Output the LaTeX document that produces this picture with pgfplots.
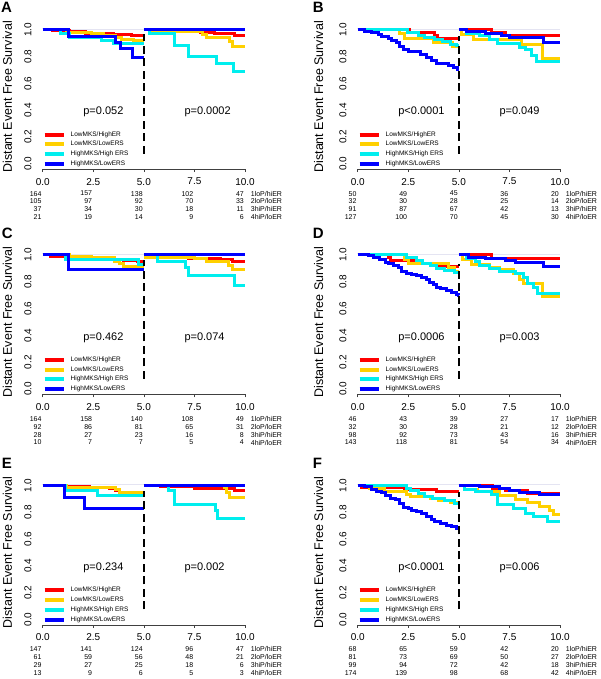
\documentclass[border=0pt]{standalone}
\usepackage{fontspec}
\setmainfont{Liberation Sans}
\usepackage{pgfplots}
\pgfplotsset{compat=1.18}

\definecolor{kmred}{RGB}{255,0,0}
\definecolor{kmyel}{RGB}{255,208,0}
\definecolor{kmcya}{RGB}{0,238,238}
\definecolor{kmblu}{RGB}{0,0,255}
\definecolor{kmtop}{RGB}{228,228,242}

\tikzset{
  rnum/.style={anchor=east,inner sep=0pt,font=\fontsize{7}{8}\selectfont},
  rlab/.style={anchor=west,inner sep=0pt,font=\fontsize{7}{8}\selectfont},
  pval/.style={anchor=west,inner sep=0pt,font=\fontsize{11}{12}\selectfont},
  plab/.style={anchor=north west,inner sep=0pt,font=\fontsize{15}{15}\selectfont\bfseries},
}

\pgfplotsset{km/.style={
  scale only axis, width=218.5pt, height=144.72pt,
  xmin=-0.4, xmax=10.4, ymin=-0.04, ymax=1.04,
  anchor=south west, clip=false,
  axis x line*=bottom, axis y line*=left,
  axis line style={draw=none},
  xtick={0,2.5,5,7.5,10}, xticklabels={0.0,2.5,5.0,7.5,10.0},
  ytick={0,0.2,0.4,0.6,0.8,1.0}, yticklabels={0.0,0.2,0.4,0.6,0.8,1.0},
  ytick style={draw=none},
  xtick style={black!75,line width=0.5pt},
  tick align=outside, major tick length=3pt,
  xticklabel style={font=\fontsize{10}{12}\selectfont,anchor=north,inner sep=0pt,yshift=-5.7pt},
  yticklabel style={font=\fontsize{10}{12}\selectfont,rotate=90,anchor=south,inner sep=0pt},
  ylabel={Distant Event Free Survival},
  ylabel style={font=\fontsize{12.5}{14}\selectfont,anchor=center,inner sep=0pt},
  every axis plot/.append style={const plot, line width=3pt, no marks},
  legend image code/.code={\draw[line width=4pt] (0pt,0pt) -- (19pt,0pt);},
  legend cell align=left,
  legend style={draw=none, fill=none, at={(0.037,0.26)}, anchor=north west,
    inner sep=0pt, outer sep=0pt, row sep=3.8pt, column sep=5pt,
    font=\fontsize{6.5}{7}\selectfont,
    nodes={inner sep=0pt, text height=4.6pt, text depth=1.4pt}},
}}

\newcommand{\topline}{\draw[kmtop,line width=0.8pt] (axis cs:0,1.006) -- (axis cs:10,1.006);}
\newcommand{\kmextras}[3]{%
  \draw[black,line width=2pt,dash pattern=on 8pt off 4.5pt] (axis cs:5,0.075) -- (axis cs:5,#3);
  \node[pval] at (axis cs:2,0.385) {#1};
  \node[pval] at (axis cs:7,0.385) {#2};
  \draw[black!75,line width=0.5pt] (axis cs:0,-0.04) -- (axis cs:10,-0.04);
}
\newcommand{\rrow}[7]{%
  \node[rnum] at (axis cs:-0.05,#1) {#2};
  \node[rnum] at (axis cs:2.45,#1) {#3};
  \node[rnum] at (axis cs:4.95,#1) {#4};
  \node[rnum] at (axis cs:7.45,#1) {#5};
  \node[rnum] at (axis cs:9.95,#1) {#6};
  \node[rlab] at (axis cs:10.28,#1) {#7};
}
\newcommand{\risk}[4]{%
  \rrow{-0.2224}#1{1loP/hiER}
  \rrow{-0.2813}#2{2loP/loER}
  \rrow{-0.3403}#3{3hiP/hiER}
  \rrow{-0.3993}#4{4hiP/loER}
}
\newcommand{\kmlegend}{\legend{LowMKS/HighER,LowMKS/LowERS,HighMKS/High ERS,HighMKS/LowERS}}

\begin{document}
\begin{tikzpicture}
\useasboundingbox (0,0) rectangle (600pt,679pt);

% ---------------- A ----------------
\node[plab] at (1pt,677.5pt) {A};
\begin{axis}[km, at={(34.61pt,509.84pt)}, ylabel style={at={(axis description cs:-0.124,0.5)}}]
\topline
\addplot[kmred] coordinates {(0,1) (0.5,0.994) (1.3,0.987) (2.1,0.976) (3.5,0.965) (4.4,0.956) (5,0.956)};
\addplot[kmyel] coordinates {(0,1) (1.2,0.98) (2.4,0.97) (3.0,0.96) (3.6,0.94) (3.9,0.93) (4.5,0.92) (5,0.92)};
\addplot[kmcya] coordinates {(0,1) (0.9,0.973) (1.3,0.946) (2.9,0.92) (3.5,0.895) (5,0.895)};
\addplot[kmblu] coordinates {(0,1) (1.27,0.952) (3.6,0.905) (3.85,0.857) (4.45,0.79) (5,0.79)};
\kmlegend
\addplot[kmred,forget plot] coordinates {(5,1) (7.0,0.99) (7.8,0.98) (8.5,0.975) (9.5,0.955) (10,0.955)};
\addplot[kmyel,forget plot] coordinates {(5,1) (5.3,0.985) (7.9,0.965) (8.1,0.94) (9.25,0.91) (9.4,0.875) (10,0.875)};
\addplot[kmcya,forget plot] coordinates {(5,1) (5.3,0.97) (6.5,0.885) (7.2,0.80) (8.6,0.745) (9.45,0.69) (10,0.69)};
\addplot[kmblu,forget plot] coordinates {(5,1) (10,1)};
\kmextras{p=0.052}{p=0.0002}{0.97}
\risk{{164}{157}{138}{102}{47}}{{105}{97}{92}{70}{33}}{{37}{34}{30}{18}{11}}{{21}{19}{14}{9}{6}}
\end{axis}

% ---------------- B ----------------
\node[plab] at (312.7pt,677.3pt) {B};
\begin{axis}[km, at={(349.61pt,509.84pt)}, ylabel style={at={(axis description cs:-0.142,0.5)}}]
\topline
\addplot[kmred] coordinates {(0,1) (2.55,0.978) (3.8,0.956) (3.95,0.933) (5,0.933)};
\addplot[kmyel] coordinates {(0,1) (2.05,0.969) (2.3,0.938) (3.75,0.906) (4.7,0.875) (5,0.875)};
\addplot[kmcya] coordinates {(0,1) (2.45,0.98) (3.0,0.96) (3.3,0.945) (3.8,0.93) (4.2,0.91) (4.6,0.89) (4.9,0.88) (5,0.88)};
\addplot[kmblu] coordinates {(0,1) (0.36,0.99) (0.69,0.977) (1.02,0.965) (1.19,0.948) (1.52,0.935) (1.68,0.918) (1.93,0.903) (2.09,0.873) (2.26,0.855) (2.5,0.84) (2.83,0.835) (3.08,0.815) (3.41,0.79) (3.66,0.77) (3.9,0.75) (4.5,0.735) (4.75,0.72) (4.92,0.705) (5,0.705)};
\kmlegend
\addplot[kmred,forget plot] coordinates {(5,1) (6.6,0.98) (7.3,0.955) (10,0.955)};
\addplot[kmyel,forget plot] coordinates {(5,1) (5.15,0.964) (5.7,0.928) (8.1,0.89) (9.15,0.785) (10,0.785)};
\addplot[kmcya,forget plot] coordinates {(5,1) (5.4,0.975) (6.0,0.955) (6.5,0.93) (6.9,0.90) (8.0,0.87) (8.3,0.85) (8.6,0.81) (8.85,0.765) (10,0.765)};
\addplot[kmblu,forget plot] coordinates {(5,1) (5.4,0.985) (6.3,0.97) (7.1,0.955) (7.5,0.94) (9.2,0.905) (10,0.905)};
\kmextras{p<0.0001}{p=0.049}{0.95}
\risk{{50}{49}{45}{36}{20}}{{32}{30}{28}{25}{14}}{{91}{87}{67}{42}{13}}{{127}{100}{70}{45}{30}}
\end{axis}

% ---------------- C ----------------
\node[plab] at (1.7pt,451.3pt) {C};
\begin{axis}[km, at={(34.61pt,284.64pt)}, ylabel style={at={(axis description cs:-0.124,0.5)}}]
\topline
\addplot[kmred] coordinates {(0,1) (0.4,0.99) (1.2,0.985) (2.5,0.975) (3.2,0.97) (4.0,0.96) (4.7,0.95) (5,0.95)};
\addplot[kmyel] coordinates {(0,1) (1.3,0.99) (2.4,0.98) (3.55,0.955) (3.8,0.935) (4.0,0.912) (5,0.912)};
\addplot[kmcya] coordinates {(0,1) (1.15,0.964) (4.75,0.929) (5,0.929)};
\addplot[kmblu] coordinates {(0,1) (1.27,0.89) (5,0.89)};
\kmlegend
\addplot[kmred,forget plot] coordinates {(5,1) (5.8,0.99) (7.2,0.975) (8.8,0.965) (9.4,0.948) (10,0.948)};
\addplot[kmyel,forget plot] coordinates {(5,1) (5.1,0.985) (7.5,0.975) (8.1,0.952) (9.2,0.925) (9.4,0.893) (10,0.893)};
\addplot[kmcya,forget plot] coordinates {(5,1) (5.65,0.955) (7.05,0.905) (7.2,0.85) (9.5,0.775) (10,0.775)};
\addplot[kmblu,forget plot] coordinates {(5,1) (10,1)};
\kmextras{p=0.462}{p=0.074}{0.965}
\risk{{164}{158}{140}{108}{49}}{{92}{86}{81}{65}{31}}{{28}{27}{23}{16}{8}}{{10}{7}{7}{5}{4}}
\end{axis}

% ---------------- D ----------------
\node[plab] at (312.7pt,451.3pt) {D};
\begin{axis}[km, at={(349.61pt,284.64pt)}, ylabel style={at={(axis description cs:-0.142,0.5)}}]
\topline
\addplot[kmred] coordinates {(0,1) (1.5,0.978) (1.6,0.957) (2.9,0.935) (3.9,0.913) (5,0.913)};
\addplot[kmyel] coordinates {(0,1) (2.3,0.969) (2.5,0.938) (4.5,0.906) (4.8,0.875) (5,0.875)};
\addplot[kmcya] coordinates {(0,1) (2.4,0.98) (2.9,0.96) (3.2,0.94) (3.6,0.92) (3.9,0.90) (4.3,0.885) (4.8,0.87) (5,0.87)};
\addplot[kmblu] coordinates {(0,1) (0.53,0.995) (0.77,0.978) (1.1,0.965) (1.35,0.945) (1.52,0.935) (1.76,0.925) (2.01,0.908) (2.17,0.878) (2.42,0.863) (2.67,0.853) (2.92,0.848) (3.16,0.833) (3.41,0.82) (3.57,0.798) (3.74,0.783) (3.9,0.758) (4.07,0.748) (4.4,0.733) (4.65,0.72) (4.89,0.708) (4.97,0.70) (5,0.70)};
\kmlegend
\addplot[kmred,forget plot] coordinates {(5,1) (6.6,0.975) (10,0.975)};
\addplot[kmyel,forget plot] coordinates {(5,1) (5.2,0.964) (5.6,0.93) (6.5,0.91) (7.0,0.89) (7.7,0.86) (8.0,0.82) (8.2,0.79) (9.15,0.69) (10,0.69)};
\addplot[kmcya,forget plot] coordinates {(5,1) (5.4,0.975) (5.8,0.95) (6.0,0.92) (6.5,0.90) (7.0,0.875) (7.8,0.86) (8.2,0.83) (8.4,0.79) (8.7,0.76) (8.9,0.715) (10,0.715)};
\addplot[kmblu,forget plot] coordinates {(5,1) (5.5,0.985) (6.3,0.973) (7.3,0.96) (7.8,0.947) (9.2,0.915) (10,0.915)};
\kmextras{p=0.0006}{p=0.003}{0.93}
\risk{{46}{43}{39}{27}{17}}{{32}{30}{28}{21}{12}}{{98}{92}{73}{43}{16}}{{143}{118}{81}{54}{34}}
\end{axis}

% ---------------- E ----------------
\node[plab] at (1.7pt,221pt) {E};
\begin{axis}[km, at={(34.61pt,54.14pt)}, ylabel style={at={(axis description cs:-0.124,0.5)}}]
\topline
\addplot[kmred] coordinates {(0,1) (1.2,0.995) (2.3,0.985) (3.3,0.975) (3.6,0.96) (3.8,0.95) (5,0.95)};
\addplot[kmyel] coordinates {(0,1) (1.2,0.984) (3.6,0.967) (3.8,0.95) (5,0.95)};
\addplot[kmcya] coordinates {(0,1) (1.15,0.965) (2.7,0.928) (5,0.928)};
\addplot[kmblu] coordinates {(0,1) (1.1,0.91) (2.05,0.83) (5,0.83)};
\kmlegend
\addplot[kmred,forget plot] coordinates {(5,1) (5.8,0.99) (7.5,0.98) (9.5,0.96) (10,0.96)};
\addplot[kmyel,forget plot] coordinates {(5,1) (9.0,0.982) (9.1,0.946) (9.25,0.91) (10,0.91)};
\addplot[kmcya,forget plot] coordinates {(5,1) (6.2,0.96) (6.5,0.86) (8.55,0.81) (8.65,0.753) (10,0.753)};
\addplot[kmblu,forget plot] coordinates {(5,1) (10,1)};
\kmextras{p=0.234}{p=0.002}{0.96}
\risk{{147}{141}{124}{96}{47}}{{61}{59}{56}{48}{21}}{{29}{27}{25}{18}{6}}{{13}{9}{6}{5}{3}}
\end{axis}

% ---------------- F ----------------
\node[plab] at (312.7pt,221pt) {F};
\begin{axis}[km, at={(349.61pt,54.14pt)}, ylabel style={at={(axis description cs:-0.142,0.5)}}]
\topline
\addplot[kmred] coordinates {(0,1) (0.2,0.985) (2.3,0.97) (3.9,0.955) (5,0.955)};
\addplot[kmyel] coordinates {(0,1) (0.6,0.975) (1.3,0.955) (2.4,0.93) (2.6,0.918) (3.6,0.9) (4.0,0.888) (4.6,0.875) (5,0.875)};
\addplot[kmcya] coordinates {(0,1) (2.4,0.98) (2.6,0.96) (3.0,0.94) (3.3,0.92) (3.7,0.90) (4.3,0.885) (4.8,0.865) (5,0.865)};
\addplot[kmblu] coordinates {(0,1) (0.36,0.993) (0.69,0.973) (0.94,0.958) (1.19,0.948) (1.35,0.923) (1.6,0.905) (1.85,0.893) (2.09,0.868) (2.26,0.838) (2.5,0.825) (2.67,0.81) (2.92,0.805) (3.16,0.793) (3.41,0.768) (3.66,0.743) (3.82,0.73) (4.07,0.718) (4.4,0.705) (4.65,0.693) (4.9,0.68) (5,0.68)};
\kmlegend
\addplot[kmred,forget plot] coordinates {(5,1) (6.65,0.98) (7.3,0.963) (8.4,0.94) (10,0.94)};
\addplot[kmyel,forget plot] coordinates {(5,1) (5.3,0.968) (5.9,0.955) (7.0,0.925) (7.8,0.898) (8.4,0.87) (9.0,0.84) (9.5,0.815) (9.7,0.785) (10,0.785)};
\addplot[kmcya,forget plot] coordinates {(5,1) (5.3,0.97) (5.8,0.955) (6.6,0.93) (6.9,0.86) (7.7,0.83) (8.3,0.79) (8.7,0.77) (9.4,0.735) (10,0.735)};
\addplot[kmblu,forget plot] coordinates {(5,1) (6.0,0.99) (7.0,0.975) (7.5,0.965) (8.0,0.95) (9.0,0.935) (10,0.935)};
\kmextras{p<0.0001}{p=0.006}{0.95}
\risk{{68}{65}{59}{42}{20}}{{81}{73}{69}{50}{27}}{{99}{94}{72}{42}{18}}{{174}{139}{98}{68}{42}}
\end{axis}
\end{tikzpicture}
\end{document}
